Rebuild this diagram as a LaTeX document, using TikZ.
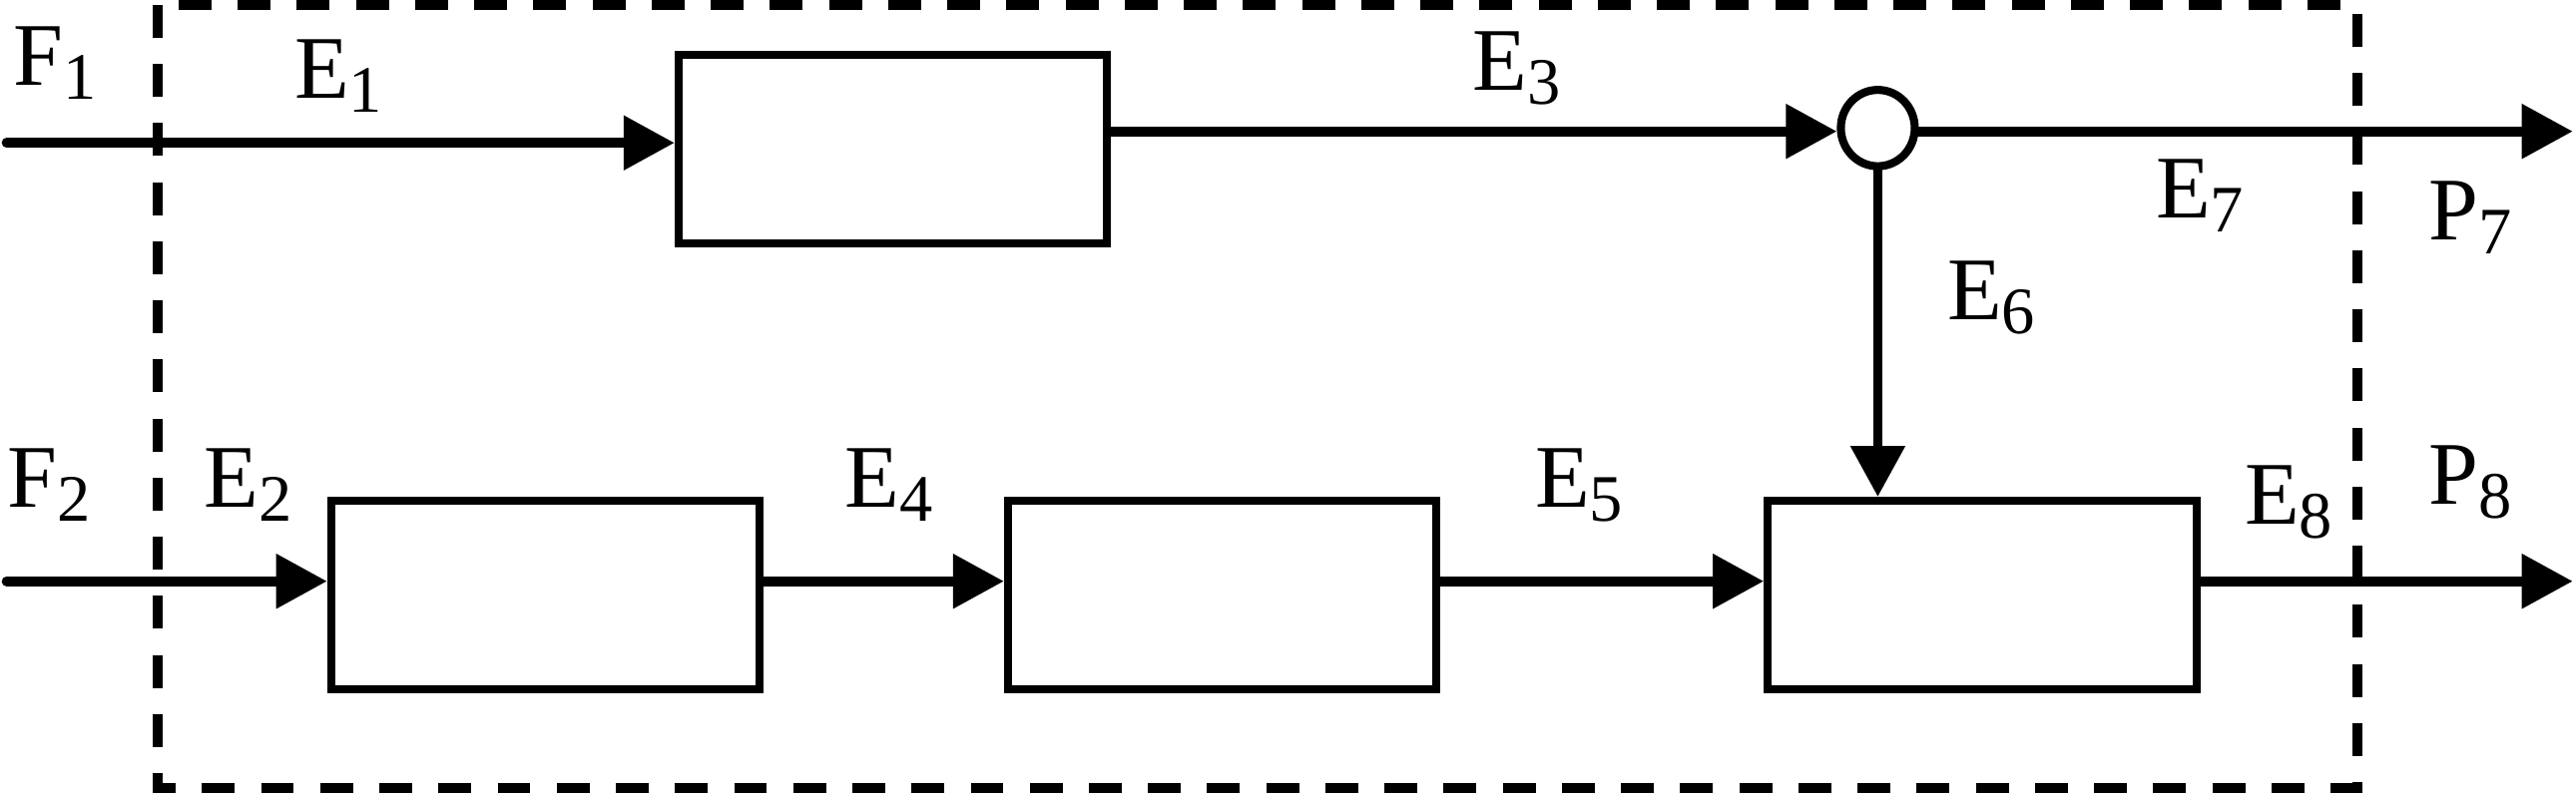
\documentclass[tikz,border=0pt]{standalone}
\usepackage{fontspec}
\setmainfont{Liberation Serif}
\usetikzlibrary{arrows.meta,shapes.geometric}
\newcommand{\lbl}[2]{#1\raisebox{-0.17cm}{\fontsize{23}{23}\selectfont #2}}
\tikzset{
  blk/.style={draw, line width=2.8pt, minimum width=5.22cm, minimum height=2.3cm, inner sep=0pt},
  junc/.style={ellipse, draw, line width=2.8pt, fill=white, minimum width=0.9cm, minimum height=0.93cm, inner sep=0pt},
  flow/.style={line width=3.4pt, line cap=round, -{Triangle[length=0.62cm,width=0.64cm]}},
  bound/.style={line width=3.3pt, dash pattern=on 0.4cm off 0.32cm},
  lab/.style={font=\fontsize{31}{31}\selectfont, inner sep=0pt, anchor=base west}
}
\begin{document}
\begin{tikzpicture}[x=0.02cm,y=-0.02cm]
\useasboundingbox (0,0) rectangle (1568,483);
% system boundary
\draw[bound] (96,3) rectangle (1435,480);
% blocks
\node[blk] (b1) at (543.5,91) {};
\node[blk] (b2) at (332,362.5) {};
\node[blk] (b3) at (744,362.5) {};
\node[blk] (b4) at (1206.5,362.5) {};
\node[junc] (c) at (1143,78) {};
% free ends
\coordinate (in1) at (4,87);
\coordinate (in2) at (4,354);
\coordinate (out7) at (1566,80);
\coordinate (out8) at (1566,354);
% connectors
\draw[flow] (in1) -- (in1 -| b1.west);
\draw[flow] (b1.east |- out7) -- (c.west |- out7);
\draw[flow] (c.east |- out7) -- (out7);
\draw[flow] (c.south) -- (c.south |- b4.north);
\draw[flow] (in2) -- (in2 -| b2.west);
\draw[flow] (in2 -| b2.east) -- (in2 -| b3.west);
\draw[flow] (in2 -| b3.east) -- (in2 -| b4.west);
\draw[flow] (in2 -| b4.east) -- (out8);
% labels
\node[lab] (lF1) at (8,52) {\lbl{F}{1}};
\node[lab] (lE1) at (179,60) {\lbl{E}{1}};
\node[lab] (lE3) at (896,55) {\lbl{E}{3}};
\node[lab] (lE7) at (1312,133) {\lbl{E}{7}};
\node[lab] (lP7) at (1478,146) {\lbl{P}{7}};
\node[lab] (lE6) at (1185,195) {\lbl{E}{6}};
\node[lab] (lF2) at (4,309) {\lbl{F}{2}};
\node[lab] (lE2) at (124,309) {\lbl{E}{2}};
\node[lab] (lE4) at (514,309) {\lbl{E}{4}};
\node[lab] (lE5) at (934,309) {\lbl{E}{5}};
\node[lab] (lE8) at (1366,319) {\lbl{E}{8}};
\node[lab] (lP8) at (1478,307) {\lbl{P}{8}};
\end{tikzpicture}
\end{document}
